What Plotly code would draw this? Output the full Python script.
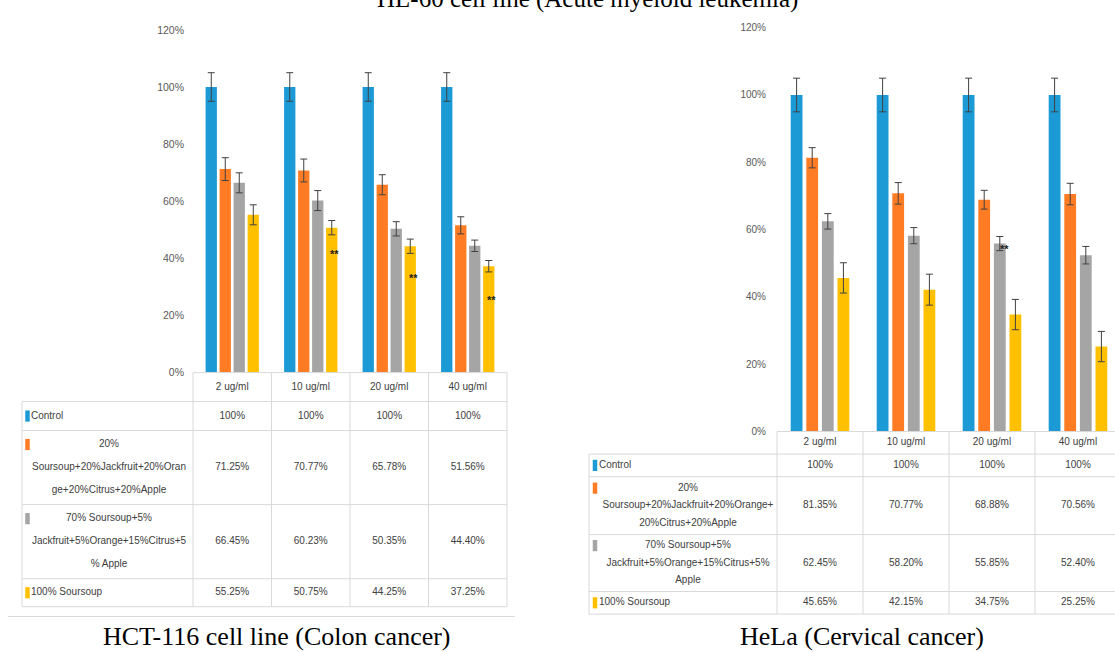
import plotly.graph_objects as go

W, H = 1115, 652

doses = ["2 ug/ml", "10 ug/ml", "20 ug/ml", "40 ug/ml"]
series_colors = ["#1B9AD6", "#FF7C24", "#A5A5A5", "#FFC000"]

# HCT-116 cell line (Colon cancer) - % viability
hct_control = [100, 100, 100, 100]
hct_mix20 = [71.25, 70.77, 65.78, 51.56]
hct_mix70 = [66.45, 60.23, 50.35, 44.40]
hct_soursoup = [55.25, 50.75, 44.25, 37.25]
hct_err_control = [5, 5, 5, 5]
hct_err_mix20 = [4, 4, 3.5, 3]
hct_err_mix70 = [3.5, 3.5, 2.5, 2]
hct_err_soursoup = [3.5, 2.5, 2.5, 2]
hct_labels = [
    ["Control"],
    ["20%", "Soursoup+20%Jackfruit+20%Oran", "ge+20%Citrus+20%Apple"],
    ["70% Soursoup+5%", "Jackfruit+5%Orange+15%Citrus+5", "% Apple"],
    ["100% Soursoup"],
]
hct_sig_doses = ["10 ug/ml", "20 ug/ml", "40 ug/ml"]
hct_sig_y = [41.5, 33.2, 25.4]

# HeLa (Cervical cancer) - % viability
hela_control = [100, 100, 100, 100]
hela_mix20 = [81.35, 70.77, 68.88, 70.56]
hela_mix70 = [62.45, 58.20, 55.85, 52.40]
hela_soursoup = [45.65, 42.15, 34.75, 25.25]
hela_err_control = [5, 5, 5, 5]
hela_err_mix20 = [3, 3.2, 2.8, 3.2]
hela_err_mix70 = [2.3, 2.4, 2.1, 2.6]
hela_err_soursoup = [4.5, 4.6, 4.5, 4.5]
hela_labels = [
    ["Control"],
    ["20%", "Soursoup+20%Jackfruit+20%Orange+", "20%Citrus+20%Apple"],
    ["70% Soursoup+5%", "Jackfruit+5%Orange+15%Citrus+5%", "Apple"],
    ["100% Soursoup"],
]
hela_sig_doses = ["20 ug/ml"]
hela_sig_y = [54.2]

y_ticks = [0, 20, 40, 60, 80, 100, 120]


def fmt(v):
    return "100%" if v == 100 else f"{v:.2f}%"


panels = [
    dict(
        values=[hct_control, hct_mix20, hct_mix70, hct_soursoup],
        errors=[hct_err_control, hct_err_mix20, hct_err_mix70, hct_err_soursoup],
        labels=hct_labels, sig_series=3, sig_doses=hct_sig_doses, sig_y=hct_sig_y, sig_dx=3,
        plot_left=193, cat_px=78.5, right_px=507, top=24.3, base=373.5, table_left=22,
        rows=[29.5, 29.5, 75.5, 75.5, 28.5], spacing=23.5, slot=14, barw=11.3,
        swatch_x=27.5, text_x=31, multi_x=109, tick_size=10.5, standoff=8, font_size=10,
    ),
    dict(
        values=[hela_control, hela_mix20, hela_mix70, hela_soursoup],
        errors=[hela_err_control, hela_err_mix20, hela_err_mix70, hela_err_soursoup],
        labels=hela_labels, sig_series=2, sig_doses=hela_sig_doses, sig_y=hela_sig_y, sig_dx=4.5,
        plot_left=777, cat_px=86, right_px=W, top=22.1, base=433.5, table_left=589,
        rows=[23, 23, 59, 58, 23], spacing=17.8, slot=15.6, barw=11.8,
        swatch_x=595, text_x=599, multi_x=688, tick_size=10, standoff=10, font_size=10,
    ),
]

fig = go.Figure()
axes = {}
shapes = []
annotations = []
grid_color = "#D9D9D9"
text_color = "#404040"
table_font = "Liberation Sans, Arial, sans-serif"

for k, p in enumerate(panels):
    bx, by = ("x", "y") if k == 0 else ("x2", "y2")
    tx, ty = f"x{3 + k}", f"y{3 + k}"

    def px_to_cat(px, p=p):
        return -0.5 + (px - p["plot_left"]) / p["cat_px"]

    slot = p["slot"] / p["cat_px"]
    bw = p["barw"] / p["cat_px"]

    # grouped bars with error bars
    for i, (vals, errs) in enumerate(zip(p["values"], p["errors"])):
        fig.add_trace(go.Bar(
            x=doses, y=vals, xaxis=bx, yaxis=by,
            width=bw, offset=(i - 2) * slot + (slot - bw) / 2,
            marker=dict(color=series_colors[i], line=dict(width=0)),
            error_y=dict(type="data", array=errs, color="#404040", thickness=1, width=3.5),
            showlegend=False, hoverinfo="skip",
        ))

    axes["xaxis" + bx[1:]] = dict(
        domain=[p["plot_left"] / W, p["right_px"] / W],
        range=[-0.5, px_to_cat(p["right_px"])], anchor=by,
        showticklabels=False, showgrid=False, zeroline=False, showline=False, ticks="",
        fixedrange=True,
    )
    axes["yaxis" + by[1:]] = dict(
        domain=[1 - p["base"] / H, 1 - p["top"] / H], range=[0, 120], anchor=bx,
        tickvals=y_ticks, ticktext=[f"{t}%" for t in y_ticks],
        tickfont=dict(family=table_font, size=p["tick_size"], color="#595959"),
        ticklabelstandoff=p["standoff"],
        showgrid=False, zeroline=False, showline=False, ticks="", fixedrange=True,
    )

    # significance marks
    sig_off = (p["sig_series"] - 1.5) * p["slot"] + p["sig_dx"]
    for d, yv in zip(p["sig_doses"], p["sig_y"]):
        annotations.append(dict(
            x=d, y=yv, xref=bx, yref=by, text="<b>**</b>", showarrow=False,
            xshift=sig_off, font=dict(family=table_font, size=11, color="#222222"),
        ))

    # data table below the chart
    rows = p["rows"]
    total = sum(rows)
    bounds = [0]
    for h in rows:
        bounds.append(bounds[-1] + h)
    left_edge = px_to_cat(p["table_left"])
    right_px = min(p["right_px"] + 3, W)
    axes["xaxis" + tx[1:]] = dict(
        domain=[(p["table_left"] - 3) / W, right_px / W],
        range=[px_to_cat(p["table_left"] - 3), px_to_cat(right_px)],
        anchor=ty, visible=False, fixedrange=True,
    )
    axes["yaxis" + ty[1:]] = dict(
        domain=[1 - (p["base"] + total + 3) / H, 1 - (p["base"] - 3) / H],
        range=[total + 3, -3], anchor=tx, visible=False, fixedrange=True,
    )
    line = dict(color=grid_color, width=1)
    shapes.append(dict(type="line", xref=tx, yref=ty, x0=-0.5, x1=3.5, y0=0, y1=0, line=line))
    for b in bounds[1:]:
        shapes.append(dict(type="line", xref=tx, yref=ty, x0=left_edge, x1=3.5, y0=b, y1=b, line=line))
    for c in [-0.5, 0.5, 1.5, 2.5, 3.5]:
        shapes.append(dict(type="line", xref=tx, yref=ty, x0=c, x1=c, y0=0, y1=total, line=line))
    shapes.append(dict(type="line", xref=tx, yref=ty, x0=left_edge, x1=left_edge,
                       y0=bounds[1], y1=total, line=line))

    cx, cy, ct = [], [], []
    lx, ly, lt = [], [], []
    sx, sy, sc = [], [], []
    for j, d in enumerate(doses):
        cx.append(j)
        cy.append(rows[0] / 2)
        ct.append(d)
    for r, (vals, lab) in enumerate(zip(p["values"], p["labels"])):
        mid = (bounds[r + 1] + bounds[r + 2]) / 2
        for j, v in enumerate(vals):
            cx.append(j)
            cy.append(mid)
            ct.append(fmt(v))
        if len(lab) == 1:
            sx.append(px_to_cat(p["swatch_x"]))
            sy.append(mid)
            lx.append(px_to_cat(p["text_x"]))
            ly.append(mid)
            lt.append(lab[0])
        else:
            n = len(lab)
            ys = [mid + (q - (n - 1) / 2) * p["spacing"] for q in range(n)]
            sx.append(px_to_cat(p["swatch_x"]))
            sy.append(ys[0])
            for q, s in enumerate(lab):
                cx.append(px_to_cat(p["multi_x"]))
                cy.append(ys[q])
                ct.append(s)
        sc.append(series_colors[r])

    tf = dict(family=table_font, size=p["font_size"], color=text_color)
    fig.add_trace(go.Scatter(x=cx, y=cy, text=ct, mode="text", textposition="middle center",
                             textfont=tf, xaxis=tx, yaxis=ty, showlegend=False,
                             hoverinfo="skip", cliponaxis=False))
    fig.add_trace(go.Scatter(x=lx, y=ly, text=lt, mode="text", textposition="middle right",
                             textfont=tf, xaxis=tx, yaxis=ty, showlegend=False,
                             hoverinfo="skip", cliponaxis=False))
    fig.add_trace(go.Scatter(x=sx, y=sy, mode="markers", xaxis=tx, yaxis=ty,
                             marker=dict(symbol="line-ns", size=8, color=sc,
                                         line=dict(width=4.5, color=sc)),
                             showlegend=False, hoverinfo="skip", cliponaxis=False))

# bottom border of the left chart frame
shapes.append(dict(type="line", xref="paper", yref="paper", x0=8 / W, x1=515 / W,
                   y0=1 - 622 / H, y1=1 - 622 / H, line=dict(color="#D9D9D9", width=1)))

serif = "Liberation Serif, Times New Roman, serif"
annotations += [
    dict(text="HL-60 cell line (Acute myeloid leukemia)", x=587 / W, y=1, xref="paper", yref="paper",
         xanchor="center", yanchor="middle", yshift=7, showarrow=False,
         font=dict(family=serif, size=25, color="#000000")),
    dict(text="HCT-116 cell line (Colon cancer)", x=277 / W, y=1 - 642 / H, xref="paper", yref="paper",
         xanchor="center", yanchor="middle", showarrow=False,
         font=dict(family=serif, size=26, color="#000000")),
    dict(text="HeLa (Cervical cancer)", x=862 / W, y=1 - 642 / H, xref="paper", yref="paper",
         xanchor="center", yanchor="middle", showarrow=False,
         font=dict(family=serif, size=26, color="#000000")),
]

fig.update_layout(
    width=W, height=H, autosize=False,
    margin=dict(l=0, r=0, t=0, b=0),
    paper_bgcolor="white", plot_bgcolor="rgba(0,0,0,0)",
    barmode="overlay", showlegend=False,
    shapes=shapes, annotations=annotations,
    **axes,
)

fig.write_html("out.html")
